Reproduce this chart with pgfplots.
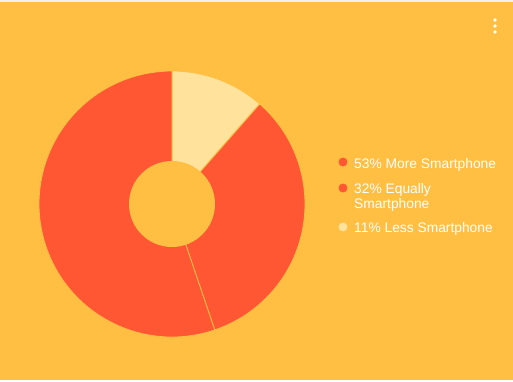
\documentclass[border=0pt]{standalone}
\usepackage{pgfplots}
\pgfplotsset{compat=1.18}
\usepackage{fontspec}
\setmainfont{Liberation Sans}
\definecolor{bg}{RGB}{255,191,67}
\definecolor{redc}{RGB}{255,87,51}
\definecolor{lessc}{RGB}{255,226,155}
\definecolor{topgray}{RGB}{240,240,240}
% data (percent)
\def\vLess{11}\def\vEq{32}\def\vMore{53}
\pgfmathsetmacro\tot{\vLess+\vEq+\vMore}
\pgfmathsetmacro\aA{90}
\pgfmathsetmacro\aB{\aA-\vLess/\tot*360}
\pgfmathsetmacro\aC{\aB-\vEq/\tot*360}
\pgfmathsetmacro\aD{\aC-\vMore/\tot*360}
\newcommand\lgfont{\fontsize{13.8bp}{16bp}\selectfont}
\begin{document}
\begin{tikzpicture}
\fill[white] (0,0) rectangle (513bp,382bp);
\fill[topgray] (0,380.4bp) rectangle (513bp,382bp);
\fill[bg] (0,2.4bp) rectangle (513bp,380.4bp);
\begin{axis}[at={(0,0)}, anchor=south west, x=1bp, y=1bp,
  xmin=0, xmax=513, ymin=0, ymax=382, hide axis, clip=false]
\fill[lessc, draw=bg, line width=0.8bp] (axis cs:172,178) -- ++(\aA:133bp) arc[start angle=\aA, end angle=\aB, radius=133bp] -- cycle;
\fill[redc, draw=bg, line width=0.8bp] (axis cs:172,178) -- ++(\aB:133bp) arc[start angle=\aB, end angle=\aC, radius=133bp] -- cycle;
\fill[redc, draw=bg, line width=0.8bp] (axis cs:172,178) -- ++(\aC:133bp) arc[start angle=\aC, end angle=\aD, radius=133bp] -- cycle;
\fill[bg] (axis cs:172,178) circle[radius=43bp];
\addplot[only marks, mark=*, mark size=4.2bp, color=redc] coordinates {(343,220) (343,194)};
\addplot[only marks, mark=*, mark size=4.2bp, color=lessc] coordinates {(343,155)};
\node[anchor=base west, inner sep=0, text=white, font=\lgfont] at (axis cs:354,214) {53\% More Smartphone};
\node[anchor=base west, inner sep=0, text=white, font=\lgfont] at (axis cs:354,189) {32\% Equally};
\node[anchor=base west, inner sep=0, text=white, font=\lgfont] at (axis cs:354,174) {Smartphone};
\node[anchor=base west, inner sep=0, text=white, font=\lgfont] at (axis cs:354,150) {11\% Less Smartphone};
\end{axis}
\fill[white] (495bp,362bp) circle[radius=1.8bp];
\fill[white] (495bp,356bp) circle[radius=1.8bp];
\fill[white] (495bp,350bp) circle[radius=1.8bp];
\end{tikzpicture}
\end{document}
